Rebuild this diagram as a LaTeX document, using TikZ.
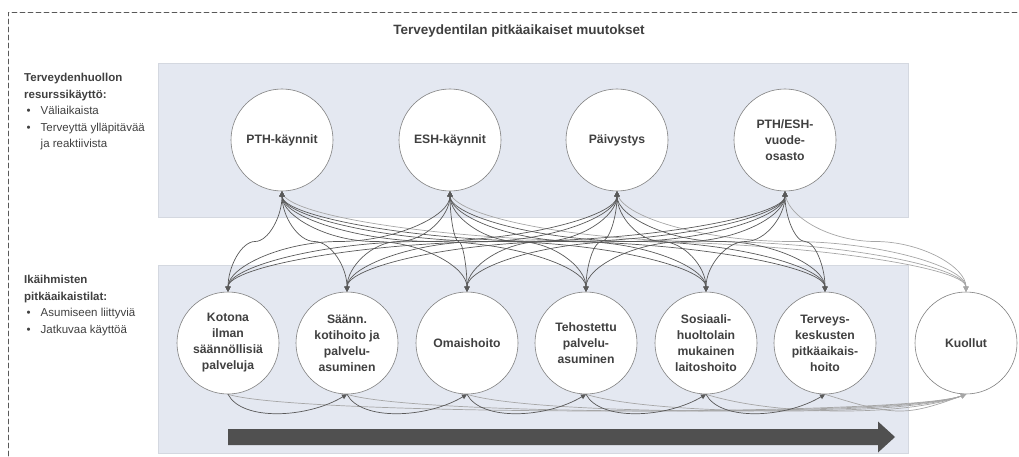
\documentclass[tikz,border=0pt]{standalone}
\usepackage{fontspec}
\setmainfont{Liberation Sans}
\usetikzlibrary{arrows.meta, calc}

\definecolor{boxfill}{RGB}{228,232,241}
\definecolor{boxline}{RGB}{212,216,224}
\definecolor{textgray}{RGB}{64,64,64}
\definecolor{linkgray}{RGB}{89,89,89}
\definecolor{deathgray}{RGB}{166,166,166}
\definecolor{bargray}{RGB}{80,80,80}

\begin{document}
\begin{tikzpicture}[
            x=1pt, y=1pt,
            >={Triangle[length=5pt, width=5pt]},
            line cap=round,
            frame/.style={draw=linkgray, line width=0.8pt, dash pattern=on 5pt off 3pt},
            panel/.style={fill=boxfill, draw=boxline, line width=0.8pt},
            state/.style={
                circle, draw=gray, fill=white, line width=0.6pt,
                minimum size=102pt, inner sep=0pt, align=center, text=textgray,
                font=\fontsize{12.2}{16}\selectfont\bfseries
            },
            side label/.style={
                anchor=north west, inner sep=0pt, align=left, text=textgray,
                font=\fontsize{11.5}{16.5}\selectfont
            },
            scurve/.style={
                to path={
                    let \p1=(\tikztostart), \p2=(\tikztotarget) in
                    .. controls (\x1,{\y1+(\y2-\y1)/4}) and ({\x1+(\x2-\x1)/4},{(\y1+\y2)/2})
                    .. ({(\x1+\x2)/2},{(\y1+\y2)/2})
                    .. controls ({\x1+3*(\x2-\x1)/4},{(\y1+\y2)/2}) and (\x2,{\y1+3*(\y2-\y1)/4})
                    .. (\tikztotarget)
                }
            },
            link/.style={scurve, <->, draw=linkgray, line width=0.7pt},
            death link/.style={scurve, ->, draw=deathgray, line width=0.7pt},
            progress/.style={
                ->, draw=linkgray, line width=0.7pt,
                to path={.. controls +(14,-27) and +(-40,-24) .. (\tikztotarget)}
            },
            death path/.style={
                ->, draw=deathgray, line width=0.7pt,
                to path={.. controls +(70,-22) and +(-60,-22) .. (\tikztotarget)}
            },
        ]
        \useasboundingbox (0,0) rectangle (1019,456);

        % frame and panels
        \draw[frame] (8,0) |- (1019,444);
        \node[text=textgray, font=\fontsize{13.5}{16}\selectfont\bfseries] (title) at (519,425)
            {Terveydentilan pitkäaikaiset muutokset};
        \draw[panel] (158,239) rectangle (908,393);
        \draw[panel] (158,3) rectangle (908,191);

        \node[side label] (care) at (24,383) {%
            \textbf{Terveydenhuollon}\\
            \textbf{resurssikäyttö:}\\
            \hspace*{2.5pt}\makebox[14pt][l]{•}Väliaikaista\\
            \hspace*{2.5pt}\makebox[14pt][l]{•}Terveyttä ylläpitävää\\
            \hspace*{16.5pt}ja reaktiivista};
        \node[side label] (living) at (24,181) {%
            \textbf{Ikäihmisten}\\
            \textbf{pitkäaikaistilat:}\\
            \hspace*{2.5pt}\makebox[14pt][l]{•}Asumiseen liittyviä\\
            \hspace*{2.5pt}\makebox[14pt][l]{•}Jatkuvaa käyttöä};

        % progression arrow
        \fill[bargray] (228,11) -- (878,11) -- (878,3.5) -- (895,19)
            -- (878,34.5) -- (878,27) -- (228,27) -- cycle;

        % health care use
        \node[state] (pth) at (282,316) {PTH-käynnit};
        \node[state] (esh) at (450,316) {ESH-käynnit};
        \node[state] (paiv) at (617,316) {Päivystys};
        \node[state] (vuode) at (785,316) {PTH/ESH-\\vuode-\\osasto};

        % long-term states
        \node[state] (kotona) at (228,113) {Kotona\\ilman\\säännöllisiä\\palveluja};
        \node[state] (saann) at (347,113) {Säänn.\\kotihoito ja\\palvelu-\\asuminen};
        \node[state] (omais) at (467,113) {Omaishoito};
        \node[state] (tehost) at (586,113) {Tehostettu\\palvelu-\\asuminen};
        \node[state] (sosiaali) at (706,113) {Sosiaali-\\huoltolain\\mukainen\\laitoshoito};
        \node[state] (terveys) at (825,113) {Terveys-\\keskusten\\pitkäaikais-\\hoito};
        \node[state] (kuollut) at (966,113) {Kuollut};

        % deaths
        \path (pth.south) edge[death link] (kuollut.north);
        \path (esh.south) edge[death link] (kuollut.north);
        \path (paiv.south) edge[death link] (kuollut.north);
        \path (vuode.south) edge[death link] (kuollut.north);
        \path (kotona.south) edge[death path] (kuollut.south);
        \path (saann.south) edge[death path] (kuollut.south);
        \path (omais.south) edge[death path] (kuollut.south);
        \path (tehost.south) edge[death path] (kuollut.south);
        \path (sosiaali.south) edge[death path] (kuollut.south);
        \path (terveys.south) edge[death path] (kuollut.south);

        % visits
        \path (pth.south) edge[link] (kotona.north) edge[link] (saann.north)
            edge[link] (omais.north) edge[link] (tehost.north)
            edge[link] (sosiaali.north) edge[link] (terveys.north);
        \path (esh.south) edge[link] (kotona.north) edge[link] (saann.north)
            edge[link] (omais.north) edge[link] (tehost.north)
            edge[link] (sosiaali.north) edge[link] (terveys.north);
        \path (paiv.south) edge[link] (kotona.north) edge[link] (saann.north)
            edge[link] (omais.north) edge[link] (tehost.north)
            edge[link] (sosiaali.north) edge[link] (terveys.north);
        \path (vuode.south) edge[link] (kotona.north) edge[link] (saann.north)
            edge[link] (omais.north) edge[link] (tehost.north)
            edge[link] (sosiaali.north) edge[link] (terveys.north);

        % transitions between states
        \path (kotona.south) edge[progress] (saann.south);
        \path (saann.south) edge[progress] (omais.south);
        \path (omais.south) edge[progress] (tehost.south);
        \path (tehost.south) edge[progress] (sosiaali.south);
        \path (sosiaali.south) edge[progress] (terveys.south);
        \end{tikzpicture}
\end{document}
